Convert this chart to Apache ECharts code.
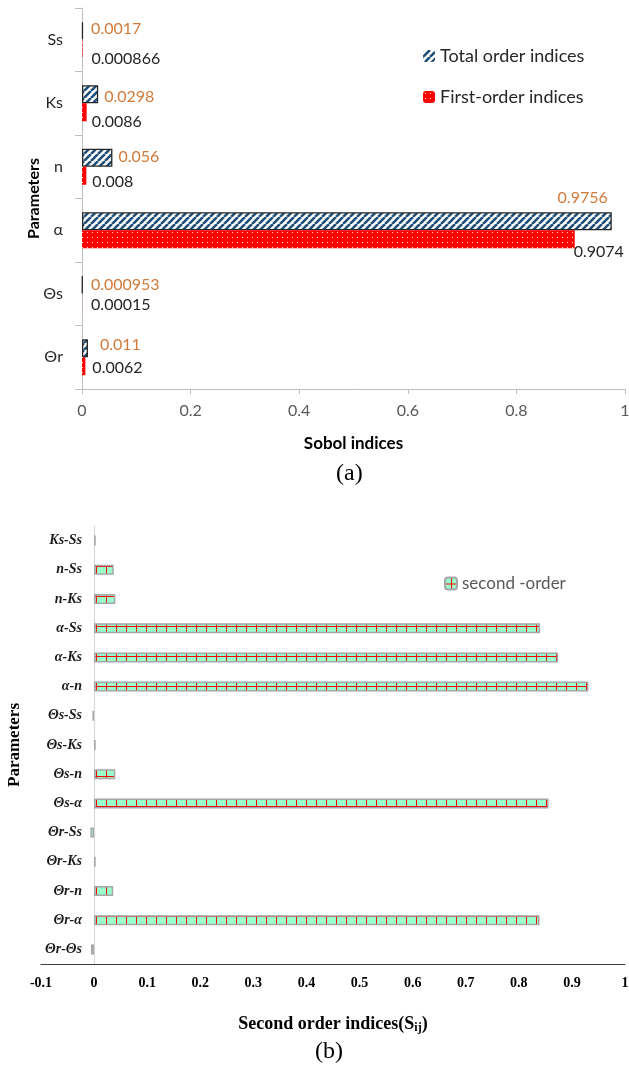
<!DOCTYPE html>
<html><head><meta charset="utf-8">
<script src="https://cdn.jsdelivr.net/npm/echarts@6/dist/echarts.min.js"></script>
<style>html,body{margin:0;padding:0;background:#fff}#c{width:629px;height:1070px}</style>
</head><body><div id="c"></div>
<script>
// ---------- Data: chart (a) ----------
const paramsA = ['Θr', 'Θs', 'α', 'n', 'Ks', 'Ss'];
const totalOrder = [0.011, 0.000953, 0.9756, 0.056, 0.0298, 0.0017];
const firstOrder = [0.0062, 0.00015, 0.9074, 0.008, 0.0086, 0.000866];
const seriesNamesA = ['Total order indices', 'First-order indices'];
const xRangeA = [0, 1, 0.2];

// ---------- Data: chart (b) ----------
const pairsB = ['Θr-Θs', 'Θr-α', 'Θr-n', 'Θr-Ks', 'Θr-Ss', 'Θs-α', 'Θs-n', 'Θs-Ks', 'Θs-Ss',
                'α-n', 'α-Ks', 'α-Ss', 'n-Ks', 'n-Ss', 'Ks-Ss'];
const secondOrder = [-0.006, 0.839, 0.036, 0.003, -0.007, 0.856, 0.040, 0.003, -0.003,
                     0.931, 0.874, 0.840, 0.040, 0.037, 0.003];
const seriesNameB = 'second -order';
const xRangeB = [-0.1, 1, 0.1];

// ---------- Styles ----------
// label placement tweaks (style only) for chart (a), index-aligned with paramsA
const totalLblOff = [[7, -3], [3, 0], null, [1, -1], [1, 3], [3, -2]];
const firstLblOff = [[2, 2], [4, 2], [-6, 13], [1, 6], [0, 10], [4, 10]];

function stripePattern() {
  const s = 7, c = document.createElement('canvas');
  c.width = s; c.height = s;
  const g = c.getContext('2d');
  g.fillStyle = '#ffffff'; g.fillRect(0, 0, s, s);
  g.strokeStyle = '#1F4E79'; g.lineWidth = 2.6;
  for (const o of [-s, 0, s]) {
    g.beginPath(); g.moveTo(o, s); g.lineTo(o + s, 0); g.stroke();
  }
  return c;
}
function dotPattern() {
  const c = document.createElement('canvas');
  c.width = 5; c.height = 5;
  const g = c.getContext('2d');
  g.fillStyle = '#FF0000'; g.fillRect(0, 0, 5, 5);
  g.fillStyle = 'rgba(255,255,255,0.85)'; g.fillRect(2, 2, 1, 1);
  return c;
}
function gridPattern() {
  const c = document.createElement('canvas');
  c.width = 10; c.height = 10;
  const g = c.getContext('2d');
  g.fillStyle = '#99FFCC'; g.fillRect(0, 0, 10, 10);
  g.fillStyle = '#FF0000';
  g.fillRect(6, 0, 1, 10);
  g.fillRect(0, 6, 10, 1);
  return c;
}

const fmt = p => String(p.value);
const sans = 'Lato, "Open Sans", sans-serif';
const serif = '"Liberation Serif", "DejaVu Serif", serif';

const totalData = totalOrder.map((v, i) => {
  if (totalLblOff[i] === null) {
    return { value: v, label: { position: ['100%', 0], align: 'right', verticalAlign: 'bottom', offset: [-4, -6], distance: 0 } };
  }
  return { value: v, label: { offset: totalLblOff[i] } };
});
const firstData = firstOrder.map((v, i) => ({ value: v, label: { offset: firstLblOff[i] } }));

const chart = echarts.init(document.getElementById('c'), null, { renderer: 'canvas' });
chart.setOption({
  backgroundColor: '#ffffff',
  animation: false,
  grid: [
    { left: 82, top: 8, width: 543, height: 381, containLabel: false, outerBoundsMode: 'none' },
    { left: 41, top: 526, width: 584, height: 438, containLabel: false, outerBoundsMode: 'none' }
  ],
  legend: [
    {
      orient: 'vertical', left: 418, top: 42, itemWidth: 12, itemHeight: 12, itemGap: 23,
      textStyle: { fontFamily: sans, fontSize: 18, color: '#262626' },
      data: [
        { name: seriesNamesA[0], itemStyle: { borderWidth: 0 } },
        { name: seriesNamesA[1] }
      ]
    },
    {
      left: 439, top: 570, itemWidth: 12, itemHeight: 12,
      textStyle: { fontFamily: sans, fontSize: 17, color: '#595959' },
      data: [{ name: seriesNameB }]
    }
  ],
  xAxis: [
    {
      gridIndex: 0, type: 'value', min: xRangeA[0], max: xRangeA[1], interval: xRangeA[2],
      axisLine: { show: true, lineStyle: { color: '#BFBFBF', width: 1 } },
      axisTick: { show: true, length: 5, lineStyle: { color: '#BFBFBF' } },
      axisLabel: { fontFamily: sans, fontSize: 16, color: '#595959', margin: 14 },
      splitLine: { show: false },
      name: 'Sobol indices', nameLocation: 'middle', nameGap: 46,
      nameTextStyle: { fontFamily: sans, fontSize: 17, fontWeight: 'bold', color: '#000' }
    },
    {
      gridIndex: 1, type: 'value', min: xRangeB[0], max: xRangeB[1], interval: xRangeB[2],
      axisLine: { show: true, onZero: false, lineStyle: { color: '#404040', width: 1.2 } },
      axisTick: { show: false },
      axisLabel: { fontFamily: serif, fontSize: 14, fontWeight: 'bold', color: '#000', margin: 12 },
      splitLine: { show: false },
      name: '{a|Second order indices(S}{s|ij}{a|)}', nameLocation: 'middle', nameGap: 51,
      nameTextStyle: {
        rich: {
          a: { fontFamily: serif, fontSize: 18, fontWeight: 'bold', color: '#000' },
          s: { fontFamily: serif, fontSize: 12, fontWeight: 'bold', color: '#000', verticalAlign: 'bottom', padding: [7, 0, 0, 0] }
        }
      }
    }
  ],
  yAxis: [
    {
      gridIndex: 0, type: 'category', data: paramsA,
      axisLine: { show: true, lineStyle: { color: '#BFBFBF' } },
      axisTick: { show: true, length: 7, inside: false, lineStyle: { color: '#BFBFBF' } },
      axisLabel: { fontFamily: sans, fontSize: 16, color: '#262626', margin: 19 },
      name: 'Parameters', nameLocation: 'middle', nameGap: 40, nameMoveOverlap: false,
      nameTextStyle: { fontFamily: sans, fontSize: 16, fontWeight: 'bold', color: '#000' }
    },
    {
      gridIndex: 1, type: 'category', data: pairsB,
      axisLine: { show: true, onZero: true, lineStyle: { color: '#D9D9D9', width: 1.2 } },
      axisTick: { show: false },
      axisLabel: { fontFamily: serif, fontSize: 14, fontWeight: 'bold', fontStyle: 'italic', color: '#1a1a1a', margin: -41 },
      name: 'Parameters', nameLocation: 'middle', nameGap: 18, nameMoveOverlap: false,
      nameTextStyle: { fontFamily: serif, fontSize: 17, fontWeight: 'bold', color: '#000' }
    }
  ],
  series: [
    {
      name: seriesNamesA[0], type: 'bar', xAxisIndex: 0, yAxisIndex: 0,
      data: totalData, barWidth: 18, barGap: '0%',
      itemStyle: { color: { image: stripePattern(), repeat: 'repeat' }, borderColor: '#262626', borderWidth: 1.3 },
      label: { show: true, position: 'right', distance: 5, formatter: fmt, fontFamily: sans, fontSize: 16, color: '#D27A3A' }
    },
    {
      name: seriesNamesA[1], type: 'bar', xAxisIndex: 0, yAxisIndex: 0,
      data: firstData, barWidth: 18, barGap: '0%',
      itemStyle: { color: { image: dotPattern(), repeat: 'repeat' } },
      label: { show: true, position: 'right', distance: 5, formatter: fmt, fontFamily: sans, fontSize: 16, color: '#262626' }
    },
    {
      name: seriesNameB, type: 'bar', xAxisIndex: 1, yAxisIndex: 1,
      data: secondOrder, barWidth: 10,
      itemStyle: { color: { image: gridPattern(), repeat: 'repeat' }, borderColor: '#A6A6A6', borderWidth: 1.5 }
    }
  ],
  graphic: [
    { type: 'text', left: 336, top: 462, style: { text: '(a)', font: '24px "Liberation Serif", serif', fill: '#000' } },
    { type: 'text', left: 315, top: 1040, style: { text: '(b)', font: '24px "Liberation Serif", serif', fill: '#000' } }
  ]
});
</script>
</body></html>
